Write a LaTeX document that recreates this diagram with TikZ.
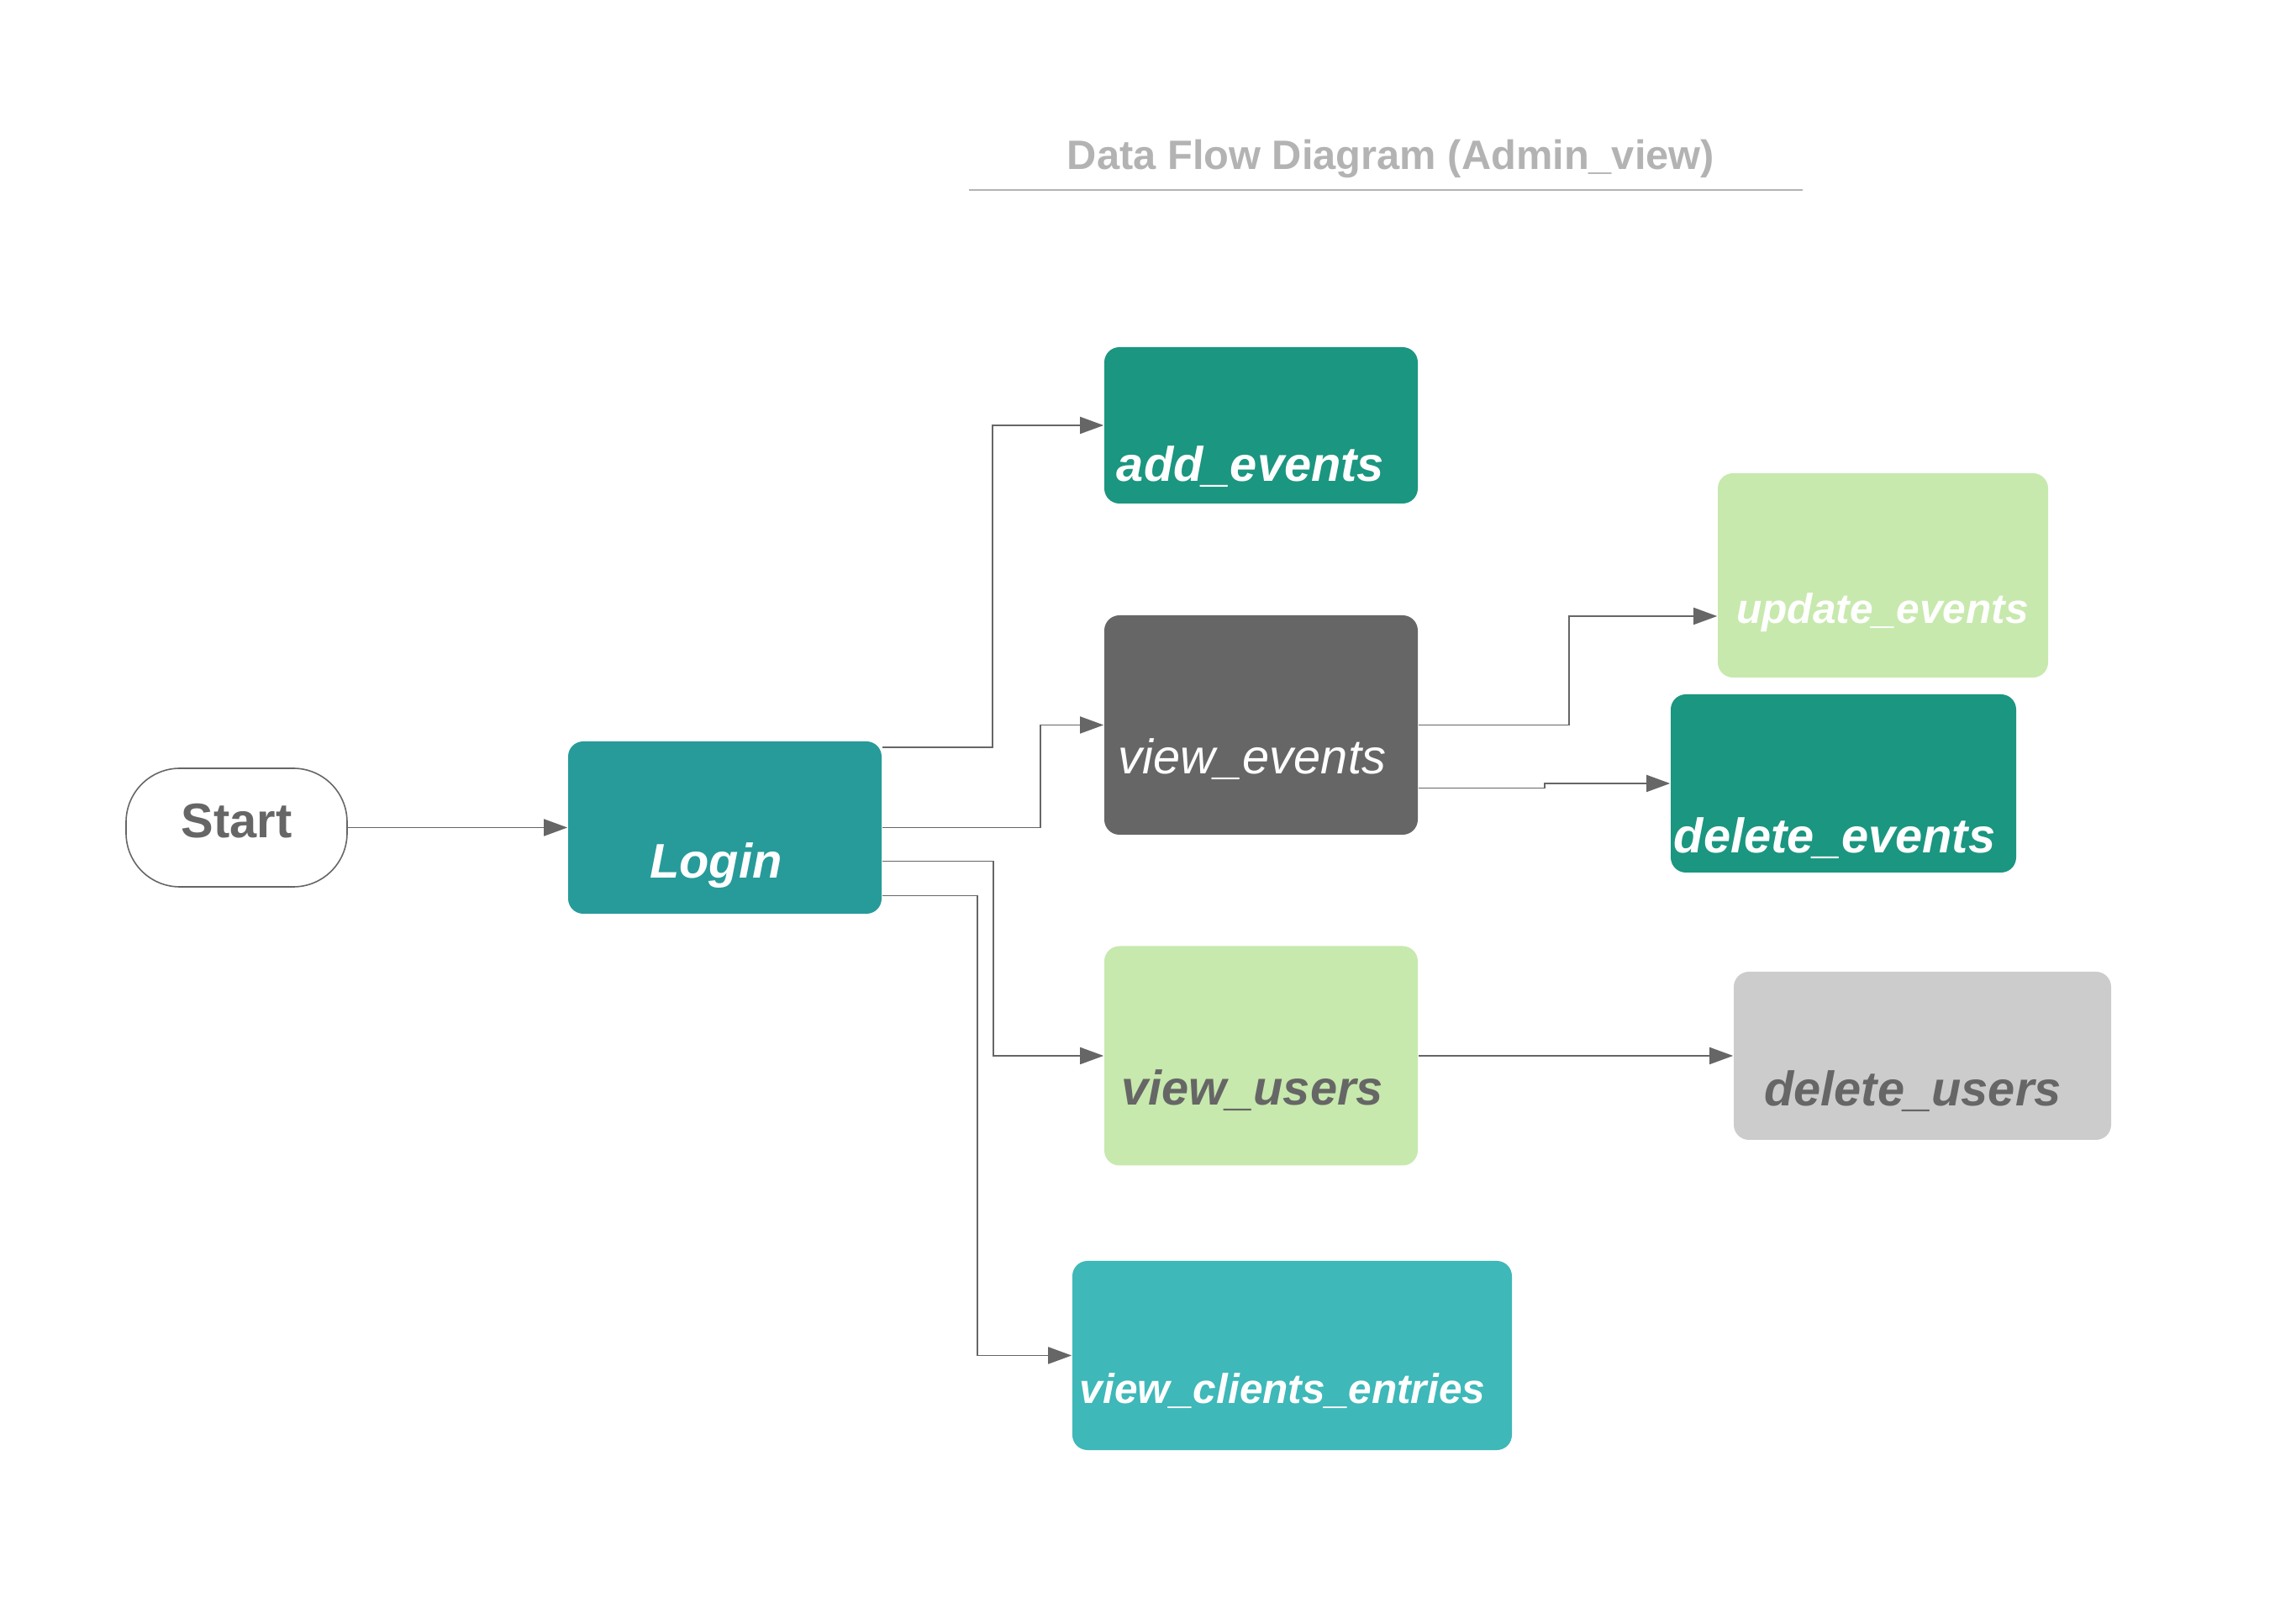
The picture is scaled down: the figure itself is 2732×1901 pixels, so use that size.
\documentclass[tikz,border=0pt]{standalone}
\usepackage{fontspec}
\setmainfont{Liberation Sans}
\usetikzlibrary{arrows.meta,calc}
\definecolor{loginteal}{HTML}{279B9A}
\definecolor{greenteal}{HTML}{1B9680}
\definecolor{darkgray}{HTML}{666666}
\definecolor{lightgreen}{HTML}{C7E9AD}
\definecolor{lightgray}{HTML}{CCCCCC}
\definecolor{cyanteal}{HTML}{3EB8B8}
\definecolor{titlegray}{HTML}{B3B3B3}
\begin{document}
\begin{tikzpicture}[x=0.25pt,y=-0.25pt,
  box/.style={rectangle, rounded corners=4.5pt, draw=none, inner sep=0pt},
  bigtxt/.style={anchor=base, inner sep=0pt, font=\fontsize{14.45}{16}\selectfont\bfseries\itshape},
  smalltxt/.style={anchor=base, inner sep=0pt, font=\fontsize{12.4}{14}\selectfont\bfseries\itshape},
  conn/.style={draw=darkgray, line width=0.45pt, -{Triangle[length=7pt,width=5pt]}}
]
\useasboundingbox (0,0) rectangle (2732,1901);
% title
\node[anchor=base, inner sep=0pt, text=titlegray, font=\fontsize{12.2}{14}\selectfont\bfseries] (title) at (1655,202) {Data Flow Diagram (Admin\_view)};
\draw[titlegray, line width=0.5pt] (1153,226) -- (2145,226);
% boxes
\node[box, draw=darkgray, line width=0.4pt, rounded corners=16pt, fill=white, minimum width=65.75pt, minimum height=35.25pt] (start) at (281.5,984.5) {};
\node[box, fill=loginteal, minimum width=93.25pt, minimum height=51.25pt] (login) at (862.5,984.5) {};
\node[box, fill=greenteal, minimum width=93.25pt, minimum height=46.5pt] (add) at (1500.5,506) {};
\node[box, fill=darkgray, minimum width=93.25pt, minimum height=65.25pt] (view) at (1500.5,862.5) {};
\node[box, fill=lightgreen, minimum width=98.25pt, minimum height=60.75pt] (upd) at (2240.5,684.5) {};
\node[box, fill=greenteal, minimum width=102.75pt, minimum height=53pt] (del) at (2193.5,932) {};
\node[box, fill=lightgreen, minimum width=93.25pt, minimum height=65.25pt] (vu) at (1500.5,1256) {};
\node[box, fill=lightgray, minimum width=112.25pt, minimum height=50pt] (du) at (2287.5,1256) {};
\node[box, fill=cyanteal, minimum width=130.75pt, minimum height=56.25pt] (vc) at (1537.5,1612.5) {};
% texts
\node[anchor=base, inner sep=0pt, text=darkgray, font=\fontsize{14.45}{16}\selectfont\bfseries] (starttxt) at (281.5,997) {Start};
\node[bigtxt, text=white] (logintxt) at (852,1045) {Login};
\node[bigtxt, text=white] (addtxt) at (1488,573) {add\_events};
\node[anchor=base, inner sep=0pt, text=white, font=\fontsize{14.45}{16}\selectfont\itshape] (viewtxt) at (1490,921) {view\_events};
\node[smalltxt, text=white] (updtxt) at (2240,742) {update\_events};
\node[bigtxt, text=white] (deltxt) at (2183,1015) {delete\_events};
\node[bigtxt, text=darkgray] (vutxt) at (1490,1315) {view\_users};
\node[bigtxt, text=darkgray] (dutxt) at (2276,1316) {delete\_users};
\node[smalltxt, text=white] (vctxt) at (1526,1669) {view\_clients\_entries};
% connectors
\draw[conn] (start.east) -- (login.west);
\draw[conn] ($(login.east)+(0,-95.5)$) -- ++(131,0) |- (add.west);
\draw[conn] (login.east) -- ++(188,0) |- (view.west);
\draw[conn] ($(login.east)+(0,40)$) -- ++(132,0) |- (vu.west);
\draw[conn] ($(login.east)+(0,81)$) -- ++(113,0) |- (vc.west);
\draw[conn] (view.east) -- ++(179,0) |- ($(upd.west)+(0,48.5)$);
\draw[conn] ($(view.east)+(0,75)$) -- ++(150,0) |- (del.west);
\draw[conn] (vu.east) -- (du.west);
\end{tikzpicture}
\end{document}
